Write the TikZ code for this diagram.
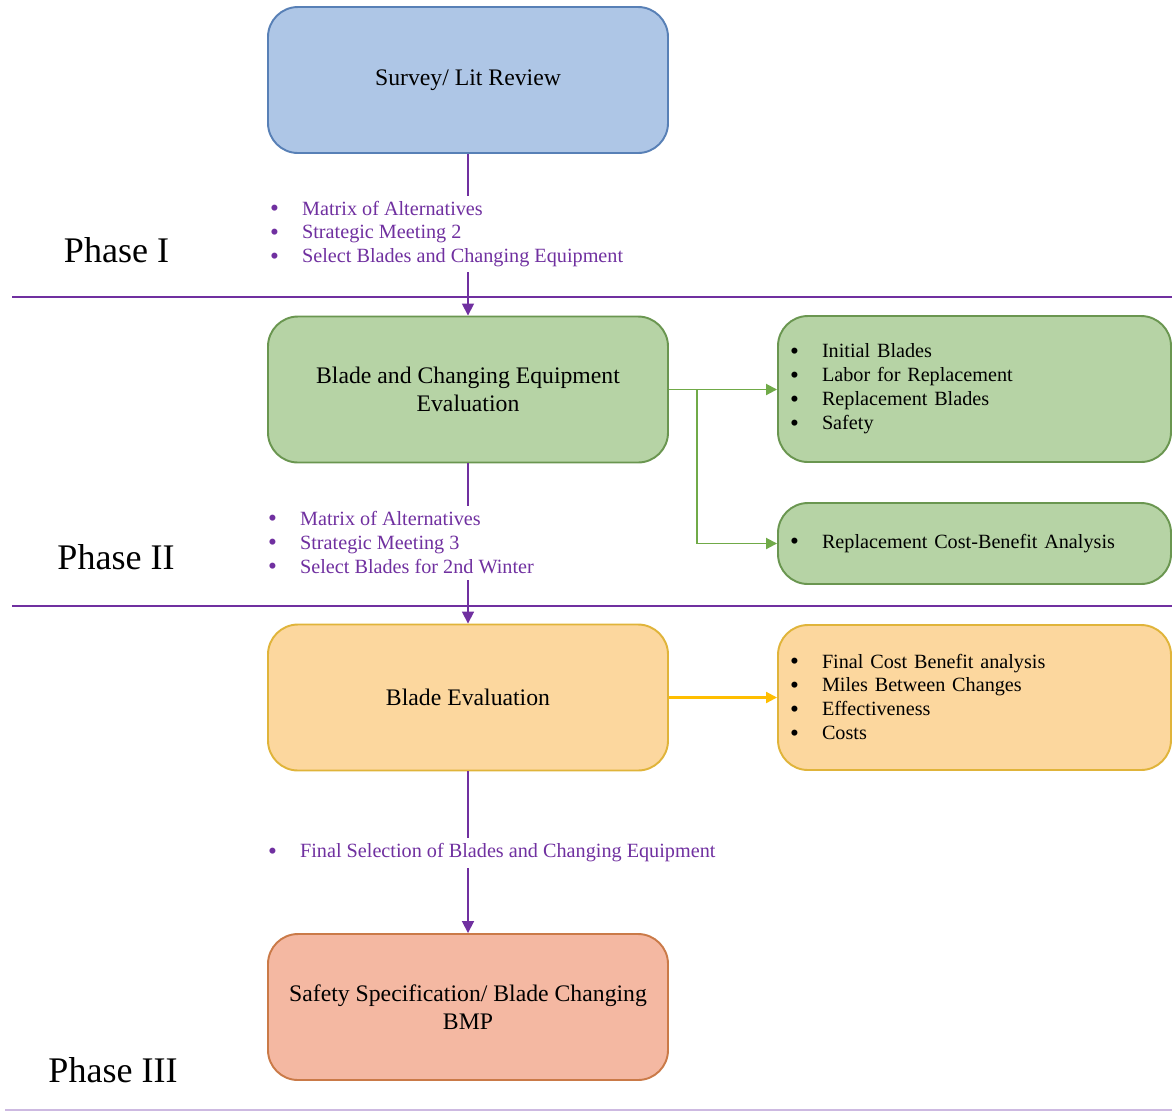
\documentclass[tikz,border=0pt]{standalone}
\usepackage{fontspec}
\setmainfont{Liberation Serif}
\usepackage{xcolor}
\usepackage{tikz}
\usetikzlibrary{positioning,arrows.meta,calc}

\definecolor{phasepurple}{RGB}{112,48,160}
\definecolor{listpurple}{RGB}{112,48,160}
\definecolor{palepurple}{RGB}{205,185,225}
\definecolor{surveyfill}{RGB}{174,198,230}
\definecolor{surveydraw}{RGB}{88,128,182}
\definecolor{greenfill}{RGB}{182,211,165}
\definecolor{greendraw}{RGB}{106,150,80}
\definecolor{greenarrow}{RGB}{112,170,72}
\definecolor{orangefill}{RGB}{252,215,158}
\definecolor{orangedraw}{RGB}{224,180,58}
\definecolor{orangearrow}{RGB}{255,190,0}
\definecolor{salmonfill}{RGB}{244,184,162}
\definecolor{salmondraw}{RGB}{202,122,72}

\newcommand{\itm}[1]{\makebox[0.64cm][l]{\raisebox{-0.15ex}{\scalebox{1.25}{\textbullet}}}#1}

\begin{document}
\begin{tikzpicture}[
  stage/.style={rectangle, rounded corners=0.6cm, line width=1.1pt,
             align=center, minimum width=8.0cm, minimum height=2.92cm,
             font=\fontsize{13.5}{15.9}\selectfont},
  detail/.style={rectangle, rounded corners=0.6cm, line width=1.1pt,
             align=left, text width=7.38cm, inner xsep=0.24cm,
             minimum width=7.86cm, font=\fontsize{11.5}{13.6}\selectfont},
  steps/.style={fill=white, align=left, inner xsep=1pt, inner ysep=3pt,
             text=listpurple, anchor=west, font=\fontsize{11.5}{13.6}\selectfont},
  phase/.style={font=\fontsize{20.5}{24}\selectfont},
  sep/.style={phasepurple, line width=1.3pt},
  parr/.style={-{Triangle[length=2.4mm,width=2.4mm]}, line width=1pt, phasepurple},
  garr/.style={-{Triangle[length=2.2mm,width=2.2mm]}, line width=1.1pt, greenarrow},
  oarr/.style={-{Triangle[length=2.2mm,width=2.2mm]}, line width=1.2pt, orangearrow},
]
\useasboundingbox (0,0) rectangle (23.44,-22.3);

% --- main stages ---
\node[stage, draw=surveydraw, fill=surveyfill] (survey) at (9.36,-1.6) {Survey/ Lit Review};
\node[stage, draw=greendraw, fill=greenfill] (bladeq) at (9.36,-7.79)
  {Blade and Changing Equipment\\ Evaluation};
\node[stage, draw=orangedraw, fill=orangefill] (bladeval) at (9.36,-13.95) {Blade Evaluation};
\node[stage, draw=salmondraw, fill=salmonfill] (safety) at (9.36,-20.14)
  {Safety Specification/ Blade Changing\\ BMP};

% --- details on the right ---
\node[detail, draw=greendraw, fill=greenfill, minimum height=2.92cm] (costs) at (19.49,-7.78)
  {\itm{Initial Blades}\\ \itm{Labor for Replacement}\\ \itm{Replacement Blades}\\ \itm{Safety}};
\node[detail, draw=greendraw, fill=greenfill, minimum height=1.62cm] (cba) at (19.49,-10.87)
  {\itm{Replacement Cost-Benefit Analysis}};
\node[detail, draw=orangedraw, fill=orangefill, minimum height=2.9cm] (final) at (19.49,-13.95)
  {\itm{Final Cost Benefit analysis}\\ \itm{Miles Between Changes}\\ \itm{Effectiveness}\\ \itm{Costs}};

% --- phase separators ---
\coordinate (sepAw) at (0.24,-5.94);  \coordinate (sepAe) at (23.44,-5.94);
\coordinate (sepBw) at (0.24,-12.12); \coordinate (sepBe) at (23.44,-12.12);
\coordinate (sepCw) at (0.1,-22.2);   \coordinate (sepCe) at (23.44,-22.2);
\draw[sep] (sepAw) -- (sepAe);
\draw[sep] (sepBw) -- (sepBe);
\draw[palepurple, line width=1.6pt] (sepCw) -- (sepCe);

\node[phase] (ph1) at (2.33,-5.0) {Phase I};
\node[phase] (ph2) at (2.32,-11.14) {Phase II};
\node[phase] (ph3) at (2.26,-21.4) {Phase III};

% --- arrows ---
\draw[parr] (survey.south) -- (bladeq.north);
\draw[parr] (bladeq.south) -- (bladeval.north);
\draw[parr] (bladeval.south) -- (safety.north);
\draw[garr] (bladeq.east) -- (costs.west |- bladeq.east);
\coordinate (gsplit) at ($(bladeq.east)+(0.56,0)$);
\draw[garr] (gsplit) |- (cba.west);
\draw[oarr] (bladeval.east) -- (final.west);

% --- steps between stages ---
\node[steps] (steps1) at (5.36,-4.68)
  {\itm{Matrix of Alternatives}\\ \itm{Strategic Meeting 2}\\ \itm{Select Blades and Changing Equipment}};
\node[steps] (steps2) at (5.32,-10.86)
  {\itm{Matrix of Alternatives}\\ \itm{Strategic Meeting 3}\\ \itm{Select Blades for 2nd Winter}};
\node[steps] (steps3) at (5.32,-17.06)
  {\itm{Final Selection of Blades and Changing Equipment}};

\end{tikzpicture}
\end{document}
